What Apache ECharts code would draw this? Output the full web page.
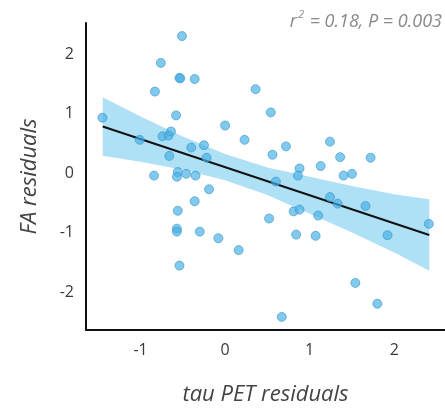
<!DOCTYPE html>
<html>
<head>
<meta charset="utf-8">
<script src="https://cdn.jsdelivr.net/npm/echarts@6/dist/echarts.min.js"></script>
<style>
html, body { margin: 0; background: #fff; }
#chart { width: 445px; height: 411px; }
</style>
</head>
<body>
<div id="chart"></div>
<script>
// points
var tauPet = [-0.51, -0.76, -0.54, -0.53, -0.36, -0.83, 0.36, -1.45, -0.58, 0.54,
  0.00, -1.01, -0.74, -0.67, -0.64, -0.40, -0.25, 0.23, -0.66, -0.22,
  0.56, 0.72, 1.24, 1.36, 1.72, -0.84, -0.56, -0.57, -0.46, -0.35,
  0.88, 0.86, 1.13, 1.40, 1.50, -0.19, 0.60, -0.36, 1.24, 1.33,
  1.66, -0.56, 0.81, 0.88, 1.10, 0.52, 2.41, -0.57, -0.57, -0.30,
  0.84, 1.07, 1.92, -0.08, 0.16, -0.54, 1.54, 1.80, 0.67];
var faRes = [2.30, 1.85, 1.60, 1.59, 1.58, 1.37, 1.41, 0.93, 0.97, 1.02,
  0.80, 0.56, 0.62, 0.63, 0.70, 0.43, 0.47, 0.56, 0.29, 0.26,
  0.31, 0.45, 0.53, 0.27, 0.26, -0.04, 0.02, -0.06, -0.01, -0.04,
  0.08, -0.04, 0.12, -0.04, -0.01, -0.27, -0.14, -0.47, -0.40, -0.51,
  -0.55, -0.63, -0.64, -0.61, -0.71, -0.76, -0.85, -0.93, -0.98, -0.98,
  -1.03, -1.05, -1.04, -1.09, -1.29, -1.55, -1.84, -2.19, -2.41];

// fitted line ends and confidence band
var fitX = [-1.447, 2.414];
var fitY = [0.784, -1.036];
var bandX = [-1.447, -1, -0.5, 0, 0.5, 1, 1.5, 2, 2.414];
var bandUpper = [1.274, 0.953, 0.618, 0.322, 0.096, -0.06, -0.215, -0.351, -0.436];
var bandLower = [0.294, 0.193, 0.058, -0.118, -0.364, -0.68, -0.995, -1.331, -1.636];

var xTicks = [-1, 0, 1, 2];
var yTicks = [-2, -1, 0, 1, 2];

var points = tauPet.map(function (x, i) { return [x, faRes[i]]; });
var fitLine = fitX.map(function (x, i) { return [x, fitY[i]]; });

var font = "'Open Sans', 'DejaVu Sans', sans-serif";

var myChart = echarts.init(document.getElementById("chart"));
var option = {
  animation: false,
  title: {
    text: "{i|r}{s|2}{i| = 0.18, P = 0.003}",
    right: 3,
    top: 5,
    padding: 0,
    textStyle: {
      fontWeight: "normal",
      rich: {
        i: { fontFamily: font, fontSize: 18, fontStyle: "italic", fontWeight: "normal", color: "#888", lineHeight: 26, verticalAlign: "bottom" },
        s: { fontFamily: font, fontSize: 11, fontStyle: "italic", fontWeight: "normal", color: "#888", lineHeight: 26, verticalAlign: "top", padding: [4, 1, 0, 1] }
      }
    }
  },
  grid: { left: 86, right: 0, top: 23, bottom: 70 },
  xAxis: {
    type: "value",
    min: -1.645,
    max: 2.6,
    name: "tau PET residuals",
    nameLocation: "middle",
    nameGap: 54,
    nameTextStyle: { fontFamily: font, fontSize: 22, fontStyle: "italic", color: "#444" },
    axisLine: { show: true, onZero: false, lineStyle: { color: "#111", width: 2 } },
    axisTick: { show: false },
    splitLine: { show: false },
    axisLabel: {
      customValues: xTicks,
      margin: 12,
      fontFamily: font,
      fontSize: 16,
      color: "#3a3a3a"
    }
  },
  yAxis: {
    type: "value",
    min: -2.63,
    max: 2.52,
    name: "FA residuals",
    nameLocation: "middle",
    nameRotate: 90,
    nameGap: 45,
    nameTextStyle: { fontFamily: font, fontSize: 22, fontStyle: "italic", color: "#444" },
    axisLine: { show: true, onZero: false, lineStyle: { color: "#111", width: 2 } },
    axisTick: { show: false },
    splitLine: { show: false },
    axisLabel: {
      customValues: yTicks,
      margin: 12,
      fontFamily: font,
      fontSize: 16,
      color: "#3a3a3a"
    }
  },
  series: [
    {
      // confidence band polygon
      type: "custom",
      z: 1,
      silent: true,
      data: [0],
      renderItem: function (params, api) {
        var pts = [];
        bandX.forEach(function (x, i) { pts.push(api.coord([x, bandUpper[i]])); });
        for (var i = bandX.length - 1; i >= 0; i--) pts.push(api.coord([bandX[i], bandLower[i]]));
        return {
          type: "polygon",
          shape: { points: pts },
          style: { fill: "#aee0f6" }
        };
      }
    },
    {
      type: "line",
      z: 2,
      data: fitLine,
      symbol: "none",
      lineStyle: { color: "#111", width: 2 }
    },
    {
      type: "scatter",
      z: 3,
      data: points,
      symbolSize: 9,
      itemStyle: { color: "rgba(70,176,228,0.85)", borderColor: "#3a96c8", borderWidth: 0.8 }
    }
  ]
};
myChart.setOption(option);
window.addEventListener("resize", function () {
  myChart.resize();
});
</script>
</body>
</html>
